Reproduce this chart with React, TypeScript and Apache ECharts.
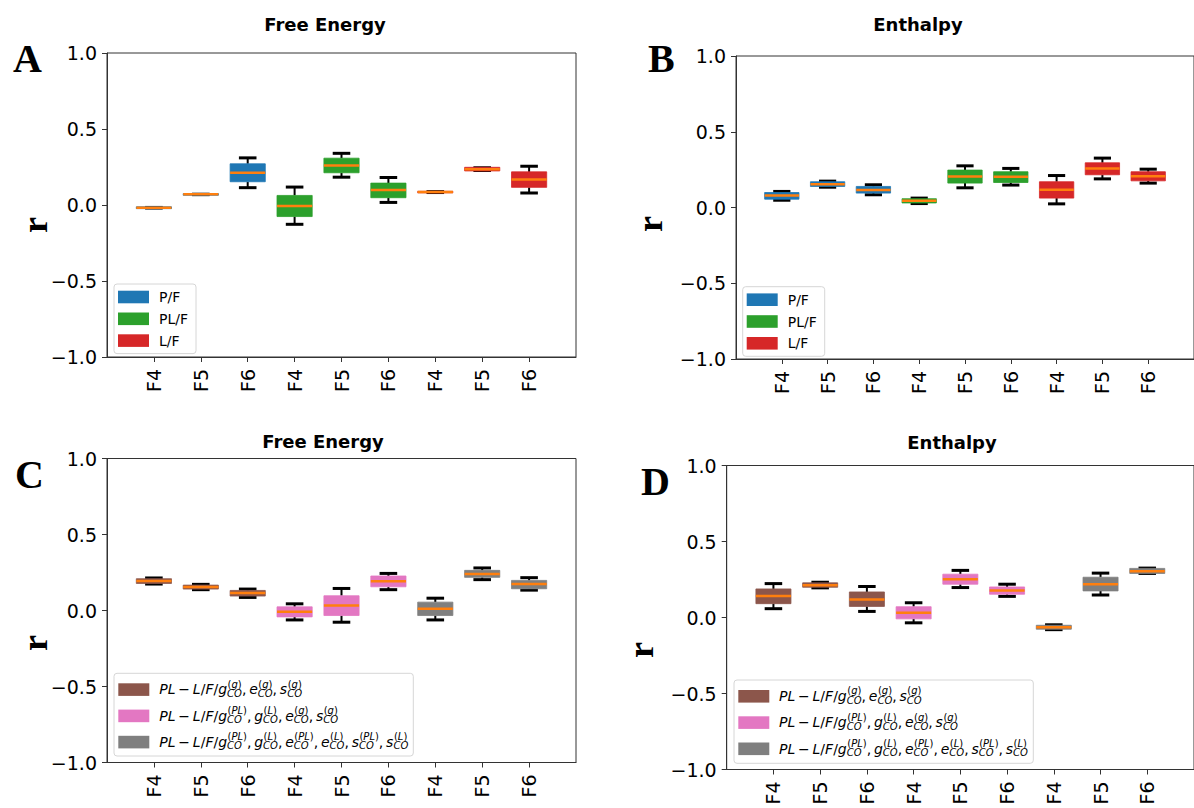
import React, { useEffect, useRef } from 'react';
import * as echarts from 'echarts';

// x tick labels (repeated for the three groups)
const categories = ['F4', 'F5', 'F6'];
const tickPositions = [1, 2, 3, 4, 5, 6, 7, 8, 9];
const yTicks = [-1, -0.5, 0, 0.5, 1];

// each row: [lower whisker, Q1, median, Q3, upper whisker] for F4, F5, F6
const freeEnergyPF = [
  [-0.02, -0.024, -0.018, -0.012, -0.016],
  [0.068, 0.064, 0.07, 0.075, 0.071],
  [0.114, 0.153, 0.212, 0.271, 0.31],
];
const freeEnergyPLF = [
  [-0.127, -0.076, -0.007, 0.063, 0.118],
  [0.183, 0.212, 0.26, 0.308, 0.34],
  [0.017, 0.048, 0.098, 0.144, 0.181],
];
const freeEnergyLF = [
  [0.082, 0.08, 0.085, 0.09, 0.088],
  [0.227, 0.224, 0.236, 0.248, 0.245],
  [0.079, 0.116, 0.168, 0.218, 0.255],
];
const enthalpyPF = [
  [0.048, 0.055, 0.079, 0.099, 0.106],
  [0.134, 0.139, 0.154, 0.17, 0.174],
  [0.084, 0.095, 0.115, 0.139, 0.15],
];
const enthalpyPLF = [
  [0.026, 0.03, 0.044, 0.058, 0.062],
  [0.13, 0.161, 0.205, 0.247, 0.275],
  [0.148, 0.165, 0.203, 0.236, 0.258],
];
const enthalpyLF = [
  [0.024, 0.062, 0.117, 0.17, 0.211],
  [0.189, 0.216, 0.258, 0.295, 0.326],
  [0.161, 0.176, 0.207, 0.236, 0.253],
];
const freeEnergyG = [
  [0.174, 0.178, 0.194, 0.209, 0.214],
  [0.137, 0.141, 0.154, 0.167, 0.172],
  [0.086, 0.095, 0.115, 0.132, 0.141],
];
const freeEnergyPLg = [
  [-0.062, -0.042, -0.009, 0.024, 0.044],
  [-0.077, -0.033, 0.033, 0.097, 0.145],
  [0.137, 0.156, 0.192, 0.227, 0.244],
];
const freeEnergyPLL = [
  [-0.062, -0.033, 0.011, 0.055, 0.081],
  [0.203, 0.218, 0.24, 0.264, 0.28],
  [0.134, 0.143, 0.174, 0.198, 0.216],
];
const enthalpyG = [
  [0.058, 0.091, 0.142, 0.188, 0.223],
  [0.195, 0.199, 0.212, 0.228, 0.232],
  [0.04, 0.073, 0.119, 0.168, 0.204],
];
const enthalpyPLg = [
  [-0.035, -0.009, 0.031, 0.071, 0.097],
  [0.197, 0.219, 0.252, 0.285, 0.31],
  [0.139, 0.153, 0.177, 0.201, 0.219],
];
const enthalpyPLL = [
  [-0.08, -0.077, -0.064, -0.051, -0.048],
  [0.148, 0.175, 0.219, 0.265, 0.292],
  [0.29, 0.29, 0.305, 0.323, 0.325],
];

const seriesNamesTop = ['P/F', 'PL/F', 'L/F'];
const seriesNamesBottom = [
  'PL − L/F/g(g)CO, e(g)CO, s(g)CO',
  'PL − L/F/g(PL)CO, g(L)CO, e(g)CO, s(g)CO',
  'PL − L/F/g(PL)CO, g(L)CO, e(PL)CO, e(L)CO, s(PL)CO, s(L)CO',
];
// math legend rows: string = base text, [sup, sub] = scripts
const mathRows: (string | [string, string])[][] = [
  ['PL − L/F/g', ['(g)', 'CO'], ', e', ['(g)', 'CO'], ', s', ['(g)', 'CO']],
  ['PL − L/F/g', ['(PL)', 'CO'], ', g', ['(L)', 'CO'], ', e', ['(g)', 'CO'], ', s', ['(g)', 'CO']],
  ['PL − L/F/g', ['(PL)', 'CO'], ', g', ['(L)', 'CO'], ', e', ['(PL)', 'CO'], ', e', ['(L)', 'CO'], ', s', ['(PL)', 'CO'], ', s', ['(L)', 'CO']],
];

const topColors = ['#1f77b4', '#2ca02c', '#d62728'];
const bottomColors = ['#8c564b', '#e377c2', '#7f7f7f'];

const panelData = [
  [freeEnergyPF, freeEnergyPLF, freeEnergyLF],
  [enthalpyPF, enthalpyPLF, enthalpyLF],
  [freeEnergyG, freeEnergyPLg, freeEnergyPLL],
  [enthalpyG, enthalpyPLg, enthalpyPLL],
];

const grids = [
  { left: 107, top: 53, width: 469, height: 304 },
  { left: 736, top: 56, width: 469, height: 303 },
  { left: 107, top: 458.5, width: 469, height: 304 },
  { left: 726.7, top: 465.5, width: 470, height: 304 },
];

const AXIS = '#333';

function renderBox(params: any, api: any) {
  const x = api.value(0);
  const wl = api.value(1), q1 = api.value(2), md = api.value(3), q3 = api.value(4), wh = api.value(5);
  const half = api.size([0.75, 0])[0] / 2;
  const capHalf = half / 2;
  const pWl = api.coord([x, wl]);
  const cx = pWl[0];
  const yWl = pWl[1];
  const yQ1 = api.coord([x, q1])[1];
  const yMd = api.coord([x, md])[1];
  const yQ3 = api.coord([x, q3])[1];
  const yWh = api.coord([x, wh])[1];
  const color = api.visual('color');
  const blk = { stroke: '#000', lineWidth: 2 };
  const cap = { stroke: '#000', lineWidth: 3 };
  return {
    type: 'group',
    children: [
      { type: 'line', shape: { x1: cx, y1: yWh, x2: cx, y2: yQ3 }, style: blk },
      { type: 'line', shape: { x1: cx, y1: yQ1, x2: cx, y2: yWl }, style: blk },
      { type: 'line', shape: { x1: cx - capHalf, y1: yWh, x2: cx + capHalf, y2: yWh }, style: cap },
      { type: 'line', shape: { x1: cx - capHalf, y1: yWl, x2: cx + capHalf, y2: yWl }, style: cap },
      {
        type: 'rect',
        shape: { x: cx - half, y: yQ3, width: 2 * half, height: Math.max(yQ1 - yQ3, 1) },
        style: { fill: color, stroke: color, lineWidth: 0.8 },
      },
      { type: 'line', shape: { x1: cx - half, y1: yMd, x2: cx + half, y2: yMd }, style: { stroke: '#ff7f0e', lineWidth: 2.5 } },
    ],
  };
}

function fmtY(v: number) {
  const s = Math.abs(v).toFixed(1);
  return v < 0 ? '\u2212' + s : s;
}

export default function App() {
  const ref = useRef<HTMLDivElement>(null);
  useEffect(() => {
    if (!ref.current) return;
    const chart = echarts.init(ref.current, undefined, { renderer: 'svg', width: 1194, height: 808 });
    const canvas = document.createElement('canvas');
    const ctx = canvas.getContext('2d') as CanvasRenderingContext2D;
    const measure = (t: string, font: string) => {
      ctx.font = font;
      return ctx.measureText(t).width;
    };

    const elements: any[] = [];
    const txt = (text: string, x: number, y: number, o: any) => ({
      type: 'text',
      x,
      y,
      rotation: o.rotation || 0,
      style: {
        text,
        fontFamily: o.fontFamily || 'DejaVu Sans',
        fontSize: o.fontSize,
        fontWeight: o.fontWeight || 'normal',
        fontStyle: o.fontStyle || 'normal',
        fill: '#000',
        align: o.align || 'left',
        verticalAlign: 'middle',
      },
    });

    // titles
    const titleFs = 18;
    const titles = [
      { t: 'Free Energy', x: 325, b: 31 },
      { t: 'Enthalpy', x: 918, b: 31 },
      { t: 'Free Energy', x: 323, b: 448 },
      { t: 'Enthalpy', x: 952, b: 449 },
    ];
    titles.forEach((o) =>
      elements.push(txt(o.t, o.x, o.b - 0.346 * titleFs, { fontSize: titleFs, fontWeight: 'bold', align: 'center' }))
    );
    // panel letters
    const letterFs = 40;
    const letters = [
      { t: 'A', x: 13, b: 72 },
      { t: 'B', x: 648, b: 72 },
      { t: 'C', x: 15, b: 488 },
      { t: 'D', x: 641, b: 495 },
    ];
    letters.forEach((o) =>
      elements.push(
        txt(o.t, o.x, o.b - 0.3375 * letterFs, { fontSize: letterFs, fontWeight: 'bold', fontFamily: 'Liberation Serif' })
      )
    );
    // y labels
    const rLabels = [
      { x: 34.5, y: 225 },
      { x: 649.5, y: 224 },
      { x: 34.5, y: 643 },
      { x: 641, y: 650 },
    ];
    rLabels.forEach((o) =>
      elements.push(
        txt('r', o.x, o.y, {
          fontSize: 36,
          fontWeight: 'bold',
          fontFamily: 'Liberation Serif',
          align: 'center',
          rotation: Math.PI / 2,
        })
      )
    );

    // math legends for C and D
    const mainFs = 14;
    const scriptFs = 10;
    const runPieces = (str: string, fs: number, x0: number, baseline: number) => {
      let x = x0;
      let i = 0;
      while (i < str.length) {
        const ch = str[i];
        if (ch === ' ') {
          x += 0.2 * fs;
          i++;
          continue;
        }
        const isLetter = /[A-Za-z]/.test(ch);
        let j = i;
        while (j < str.length && str[j] !== ' ' && /[A-Za-z]/.test(str[j]) === isLetter) j++;
        const seg = str.slice(i, j);
        const fstyle = isLetter ? 'italic' : 'normal';
        elements.push(txt(seg, x, baseline - 0.346 * fs, { fontSize: fs, fontStyle: fstyle }));
        x += measure(seg, `${fstyle} ${fs}px "DejaVu Sans"`);
        i = j;
      }
      return x;
    };
    const mathLegends = [
      { box: { x: 114, y: 673.3, w: 299.3, h: 82.7 }, rectX: 118.3, textX: 159.3, tops: [683.3, 709.6, 735.8] },
      { box: { x: 734, y: 680, w: 299.3, h: 83.3 }, rectX: 738.3, textX: 779, tops: [690, 716.3, 742.5] },
    ];
    mathLegends.forEach((L) => {
      elements.push({
        type: 'rect',
        shape: { x: L.box.x, y: L.box.y, width: L.box.w, height: L.box.h, r: 3 },
        style: { fill: 'rgba(255,255,255,0.85)', stroke: '#d6d6d6', lineWidth: 1 },
      });
      mathRows.forEach((row, k) => {
        const top = L.tops[k];
        elements.push({
          type: 'rect',
          shape: { x: L.rectX, y: top, width: 31, height: 12.6 },
          style: { fill: bottomColors[k] },
        });
        const baseline = top + 11;
        let x = L.textX;
        row.forEach((part) => {
          if (typeof part === 'string') {
            x = runPieces(part, mainFs, x, baseline);
          } else {
            const e1 = runPieces(part[0], scriptFs, x + 0.5, baseline - 6.7);
            const e2 = runPieces(part[1], scriptFs, x, baseline + 2.5);
            x = Math.max(e1, e2);
          }
        });
      });
    });

    const series: any[] = [];
    panelData.forEach((groups, pi) => {
      const names = pi < 2 ? seriesNamesTop : seriesNamesBottom;
      const colors = pi < 2 ? topColors : bottomColors;
      groups.forEach((stats, gi) => {
        series.push({
          type: 'custom',
          name: names[gi],
          xAxisIndex: pi,
          yAxisIndex: pi,
          coordinateSystem: 'cartesian2d',
          itemStyle: { color: colors[gi] },
          encode: { x: 0, y: [1, 2, 3, 4, 5] },
          data: stats.map((s, k) => [tickPositions[gi * 3 + k], ...s]),
          renderItem: renderBox,
          silent: true,
        });
      });
    });

    const xAxes = grids.map((_, i) => ({
      type: 'value',
      gridIndex: i,
      min: 0,
      max: 10,
      axisLine: { show: true, onZero: false, lineStyle: { color: AXIS, width: 1 } },
      axisTick: { show: true, length: 5, customValues: tickPositions, lineStyle: { color: AXIS } },
      axisLabel: {
        show: true,
        customValues: tickPositions,
        rotate: 90,
        margin: 12,
        fontSize: 19,
        fontFamily: 'DejaVu Sans',
        color: '#000',
        formatter: (v: number) => categories[(Math.round(v) - 1) % 3] || '',
      },
      splitLine: { show: false },
    }));
    const yAxes = grids.map((_, i) => ({
      type: 'value',
      gridIndex: i,
      min: -1,
      max: 1,
      interval: 0.5,
      axisLine: { show: true, onZero: false, lineStyle: { color: AXIS, width: 1 } },
      axisTick: { show: true, length: 5, lineStyle: { color: AXIS } },
      axisLabel: {
        show: true,
        margin: 10,
        fontSize: 19,
        fontFamily: 'DejaVu Sans',
        color: '#000',
        showMinLabel: true,
        showMaxLabel: true,
        customValues: yTicks,
        formatter: fmtY,
      },
      splitLine: { show: false },
    }));

    const legendBase = {
      data: seriesNamesTop,
      orient: 'vertical',
      icon: 'rect',
      itemWidth: 31,
      itemHeight: 12.6,
      itemGap: 7.8,
      padding: [6, 8, 6, 4],
      backgroundColor: 'rgba(255,255,255,0.85)',
      borderColor: '#d6d6d6',
      borderWidth: 1,
      borderRadius: 3,
      selectedMode: false,
      itemStyle: { borderWidth: 0 },
      textStyle: { fontSize: 14, fontFamily: 'DejaVu Sans', color: '#000', padding: [0, 0, 0, 5] },
    };

    chart.setOption({
      animation: false,
      backgroundColor: '#fff',
      grid: grids.map((g) => ({ ...g, show: true, borderColor: AXIS, borderWidth: 1, backgroundColor: 'transparent', containLabel: false })),
      xAxis: xAxes,
      yAxis: yAxes,
      legend: [
        { ...legendBase, left: 114, top: 284 },
        { ...legendBase, left: 742.7, top: 286.7 },
      ],
      series,
      graphic: { elements },
    });
    return () => chart.dispose();
  }, []);
  return <div ref={ref} style={{ position: 'fixed', left: 0, top: 0, width: 1194, height: 808, background: '#fff' }} />;
}
